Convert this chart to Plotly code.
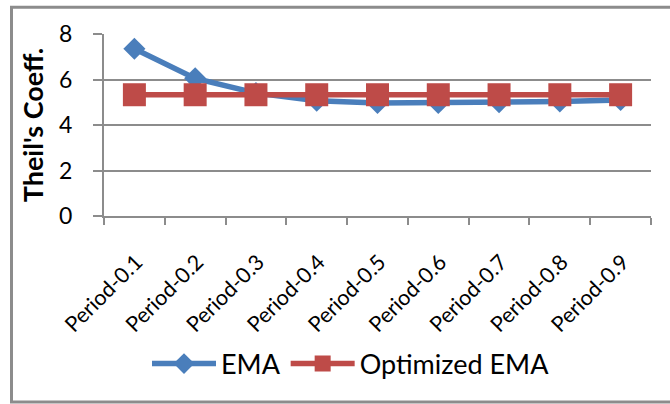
import plotly.graph_objects as go

# Data
periods = ["Period-0.1", "Period-0.2", "Period-0.3", "Period-0.4", "Period-0.5",
           "Period-0.6", "Period-0.7", "Period-0.8", "Period-0.9"]
ema = [7.35, 6.05, 5.4, 5.07, 4.97, 4.97, 5.0, 5.03, 5.1]
optimized_ema = [5.33, 5.33, 5.33, 5.33, 5.33, 5.33, 5.33, 5.33, 5.33]
y_ticks = [0, 2, 4, 6, 8]

BLUE = "#4a7ebb"
RED = "#be4b48"
GRID = "#8c8c8c"
FONT = "Lato, 'Open Sans', sans-serif"

W, H = 670, 404
L, R, T, B = 104, 19, 34, 188
plot_w, plot_h = W - L - R, H - T - B


def px_to_paper(x, y):
    return (x - L) / plot_w, (H - B - y) / plot_h


fig = go.Figure()
fig.add_trace(go.Scatter(
    x=periods, y=ema, name="EMA", mode="lines+markers",
    line=dict(color=BLUE, width=5.5),
    marker=dict(symbol="diamond", size=17, color=BLUE, line=dict(width=0)),
))
fig.add_trace(go.Scatter(
    x=periods, y=optimized_ema, name="Optimized EMA", mode="lines+markers",
    line=dict(color=RED, width=5.5),
    marker=dict(symbol="square", size=23, color=RED, line=dict(width=0)),
))

# Outer chart border
x0, y0 = px_to_paper(11.5, 7.3)
x1, y1 = px_to_paper(676, 402)
fig.add_shape(type="rect", xref="paper", yref="paper", x0=x0, y0=y1, x1=x1, y1=y0,
              line=dict(color=GRID, width=3), fillcolor="rgba(0,0,0,0)", layer="below")

lx, ly = px_to_paper(351, 364)
fig.update_layout(
    width=W, height=H,
    margin=dict(l=L, r=R, t=T, b=B),
    paper_bgcolor="white", plot_bgcolor="white",
    font=dict(family=FONT, color="black"),
    showlegend=True,
    legend=dict(orientation="h", x=lx, y=ly, xanchor="center", yanchor="middle",
                font=dict(size=27, family=FONT), itemwidth=64,
                bgcolor="rgba(0,0,0,0)"),
    xaxis=dict(
        type="category", tickson="boundaries", ticks="outside", ticklen=7,
        tickwidth=2, tickcolor=GRID, showline=True, linecolor=GRID, linewidth=2,
        showgrid=False, tickangle=-45, tickfont=dict(size=21.5, family=FONT),
        ticklabelstandoff=23, ticklabelshift=2, range=[-0.5, len(periods) - 0.5],
    ),
    yaxis=dict(
        range=[0, 8], tickvals=y_ticks, ticks="outside", ticklen=9, tickwidth=2,
        tickcolor=GRID, showline=True, linecolor=GRID, linewidth=2,
        showgrid=True, gridcolor=GRID, gridwidth=2, zeroline=False,
        tickfont=dict(size=23, family=FONT), ticklabelstandoff=16,
        title=dict(text="<b>Theil's Coeff.</b>", font=dict(size=27, family=FONT),
                   standoff=8),
    ),
)

fig.write_html("out.html")
